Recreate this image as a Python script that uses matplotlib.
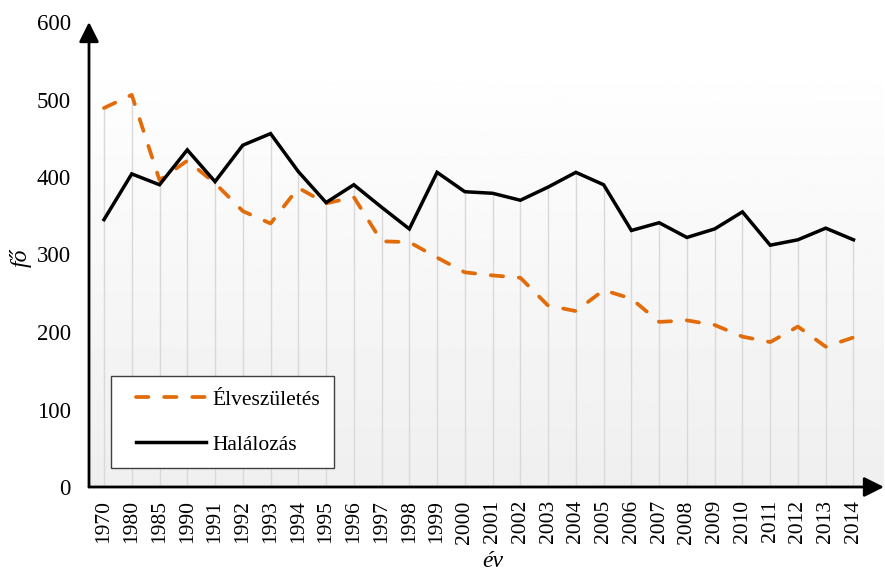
import numpy as np
import matplotlib
matplotlib.use('agg')
import matplotlib.pyplot as plt
from matplotlib.lines import Line2D
from matplotlib.legend_handler import HandlerLine2D

# categories and series
years = ['1970', '1980', '1985', '1990', '1991', '1992', '1993', '1994', '1995',
         '1996', '1997', '1998', '1999', '2000', '2001', '2002', '2003', '2004',
         '2005', '2006', '2007', '2008', '2009', '2010', '2011', '2012', '2013', '2014']
elveszuletes = [489, 506, 396, 421, 392, 356, 340, 386, 366, 374, 317, 316, 296, 277,
                273, 270, 234, 227, 254, 243, 213, 215, 209, 194, 187, 207, 181, 193]
halalozas = [345, 404, 390, 435, 394, 441, 456, 407, 367, 390, 361, 333, 406, 381,
             379, 370, 387, 406, 390, 331, 341, 322, 333, 355, 312, 319, 334, 319]
yticks = [0, 100, 200, 300, 400, 500, 600]

plt.rcParams['font.family'] = ['Liberation Serif', 'DejaVu Serif']

fig = plt.figure(figsize=(8.85, 5.72), dpi=100)
ax = fig.add_axes([89 / 885, 1 - 487 / 572, 795 / 885, 465 / 572])

x = np.arange(len(years))
xmin, xmax = -0.54, 28.1
ax.set_xlim(xmin, xmax)
ax.set_ylim(0, 600)

# gradient plot area background (white at top, light grey at bottom)
grad = np.linspace(0.995, 0.937, 256).reshape(-1, 1)
ax.imshow(grad, cmap='gray', vmin=0, vmax=1, aspect='auto',
          extent=(xmin, xmax, 0, 522), origin='upper', zorder=0)

# drop lines
tops = np.maximum(elveszuletes, halalozas)
ax.vlines(x, 0, tops, color='#d9d9d9', lw=1, zorder=1)

ax.plot(x, elveszuletes, color='#E36C0A', lw=2.7, linestyle=(0, (3.3, 4.2)),
        dash_capstyle='round', solid_capstyle='round', label='Élveszületés', zorder=3)
ax.plot(x, halalozas, color='black', lw=2.5, solid_joinstyle='miter',
        label='Halálozás', zorder=3)

for s in ax.spines.values():
    s.set_visible(False)

# axis arrows
arrow = dict(arrowstyle='-|>,head_length=0.6,head_width=0.3', mutation_scale=20,
             lw=2, color='black', shrinkA=0, shrinkB=0)
ax.annotate('', xy=(1, 0), xytext=(0, 0), xycoords='axes fraction',
            arrowprops=arrow, annotation_clip=False, zorder=5)
ax.annotate('', xy=(0, 1), xytext=(0, 0), xycoords='axes fraction',
            arrowprops=arrow, annotation_clip=False, zorder=5)

ax.set_xticks(x)
ax.set_xticklabels(years, rotation=90, fontsize=15.5)
ax.set_yticks(yticks)
ax.set_yticklabels([str(v) for v in yticks], fontsize=16.5)
ax.tick_params(axis='x', length=0, pad=9.5)
ax.tick_params(axis='y', length=0, pad=13)

ax.set_ylabel('fő', fontsize=17, style='italic')
ax.yaxis.set_label_coords(-0.072, 0.492)
ax.set_xlabel('év', fontsize=17, style='italic', va='baseline')
ax.xaxis.set_label_coords(0.508, -0.172)

leg = ax.legend(loc='lower left', bbox_to_anchor=(0.0277, 0.041), borderaxespad=0,
                fontsize=15.5, handlelength=3.77, handletextpad=0.33,
                labelspacing=1.15, borderpad=0.62, fancybox=False,
                framealpha=1, edgecolor='#404040',
                handler_map={Line2D: HandlerLine2D(xpad=0.52)})
leg.get_frame().set_linewidth(1.0)
leg.set_zorder(6)

fig.savefig('out.png', dpi=100)
